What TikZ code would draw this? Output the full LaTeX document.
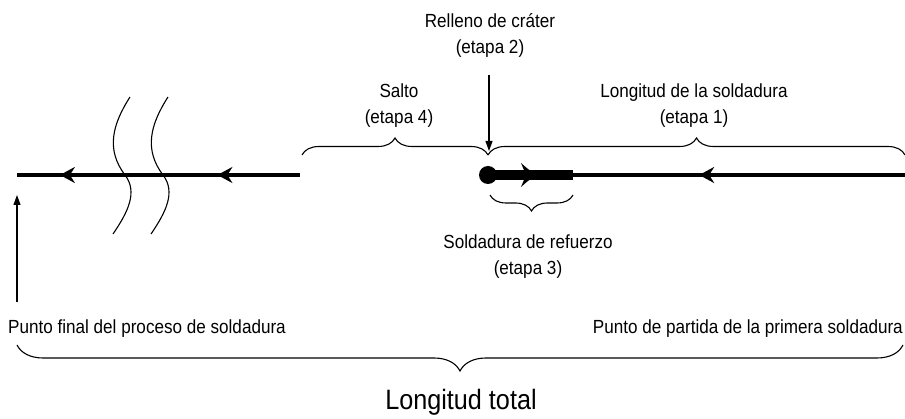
\documentclass[tikz,border=0pt]{standalone}
\usepackage{fontspec}
\setmainfont[FakeStretch=0.9]{Liberation Sans}
\usetikzlibrary{arrows.meta,decorations.pathreplacing,decorations.markings}
\begin{document}
\begin{tikzpicture}[x=1pt,y=-1pt,
  lbl/.style={font=\fontsize{19}{26}\selectfont,align=center,inner sep=0pt},
  weld/.style={line width=4.3pt},
  thin/.style={line width=1.1pt},
  brc/.style={thin,decorate,decoration={brace,amplitude=17pt,raise=0pt}},
  midarrow/.style={postaction={decorate,decoration={markings,
     mark=at position #1 with {\arrow{Stealth[length=15pt,width=16pt,inset=5pt]}}}}},
  ptr/.style={thin,-{Triangle[length=10pt,width=7pt]}}
]
\useasboundingbox (0,0) rectangle (905,419);
% coordinates
\coordinate (L0) at (17,175);
\coordinate (L1) at (300,175);
\coordinate (Lm) at (160,175);
\coordinate (D) at (488,175);
\coordinate (T) at (573,175);
\coordinate (R) at (905,175);
% left weld line with arrows pointing left
\draw[weld,midarrow=0.7] (Lm) -- (L0);
\draw[weld,midarrow=0.59] (L1) -- (Lm);
% break lines
\draw[thin] (130,97) .. controls (112,125) and (106,150) .. (125,175)
            .. controls (138,192) and (128,212) .. (113,234);
\draw[thin] (168,97) .. controls (150,125) and (144,150) .. (163,175)
            .. controls (176,192) and (166,212) .. (151,234);
% right weld line
\draw[line width=9.5pt] (D) -- (T);
\coordinate (AT) at (539,175);
\fill (AT) .. controls (530,171) .. (521,163) -- (526,175) -- (521,187) .. controls (530,179) .. (AT);
\fill (D) circle (9pt);
\draw[weld,midarrow=0.62] (R) -- (T);
% top braces
\coordinate (B1) at (302,155);
\coordinate (B2) at (488,155);
\coordinate (B3) at (905,155);
\draw[brc] (B1) -- (B2);
\draw[brc] (B2) -- (B3);
% bottom brace (stage 3)
\coordinate (S1) at (490,195);
\coordinate (S2) at (573,195);
\draw[brc,decoration={amplitude=16pt}] (S2) -- (S1);
% total brace
\coordinate (G1) at (17,345);
\coordinate (G2) at (903,345);
\draw[brc,decoration={amplitude=26pt}] (G2) -- (G1);
% labels
\node[lbl] (crater) at (490,35) {Relleno de cráter\\(etapa 2)};
\node[lbl] (salto) at (399,106) {Salto\\(etapa 4)};
\node[lbl] (long) at (694,106) {Longitud de la soldadura\\(etapa 1)};
\node[lbl] (refu) at (528,257) {Soldadura de refuerzo\\(etapa 3)};
\node[lbl,anchor=west] (fin) at (8,329) {Punto final del proceso de soldadura};
\node[lbl,anchor=east] (ini) at (903,329) {Punto de partida de la primera soldadura};
\node[lbl,font=\fontsize{28}{32}\selectfont] (tot) at (461,402) {Longitud total};
% pointer arrows
\coordinate (cA) at (489,75);
\coordinate (cB) at (489,151);
\draw[ptr] (cA) -- (cB);
\coordinate (fA) at (17,302);
\coordinate (fB) at (17,195);
\draw[ptr] (fA) -- (fB);
\end{tikzpicture}
\end{document}
